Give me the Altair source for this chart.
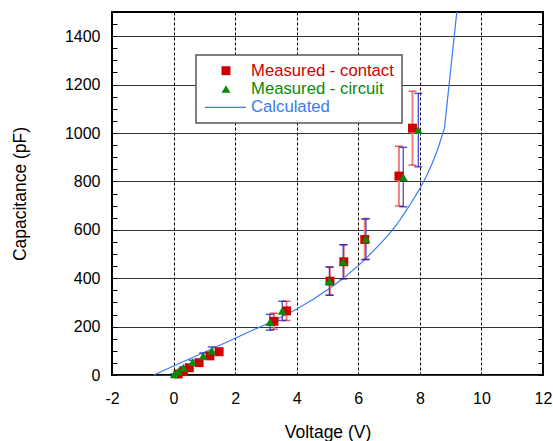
import altair as alt
import pandas as pd

FONT = "Liberation Sans"

# ---- data ----
contact_v = [0.15, 0.32, 0.51, 0.83, 1.18, 1.48, 3.26, 3.67, 5.08, 5.53, 6.21, 7.32, 7.76]
contact_c = [4, 14, 30, 51, 79, 96, 222, 265, 388, 468, 560, 822, 1020]
contact_lo = [3.4, 11.9, 25.5, 43.4, 67.2, 81.6, 188.7, 225.3, 329.8, 397.8, 476, 698.7, 867]
contact_hi = [4.6, 16.1, 34.5, 58.7, 90.9, 110.4, 255.3, 304.8, 446.2, 538.2, 644, 945.3, 1173]

circuit_v = [0.02, 0.15, 0.32, 0.62, 0.96, 1.24, 3.13, 3.53, 5.06, 5.51, 6.25, 7.46, 7.95]
circuit_c = [3, 14, 30, 53, 79, 101, 218, 265, 388, 468, 562, 818, 1012]
circuit_lo = [2.6, 11.9, 25.5, 45, 67.2, 85.9, 185.3, 225.3, 329.8, 397.8, 477.7, 695.3, 860.2]
circuit_hi = [3.5, 16.1, 34.5, 61, 90.9, 116.2, 250.7, 304.8, 446.2, 538.2, 646.3, 940.7, 1163.8]

calc_v = [-0.65, 0, 1, 2, 3, 3.5, 4, 4.5, 5, 5.5, 6, 6.25, 6.5, 6.75, 7, 7.25, 7.5, 7.75, 8, 8.2, 8.4, 8.6, 8.8, 9.25]
calc_c = [0, 37, 94, 152, 210, 240, 273, 310, 352, 398, 452, 482, 514, 547, 582, 622, 668, 718, 770, 818, 874, 940, 1020, 1560]

series_names = ["Measured - contact", "Measured - circuit", "Calculated"]
series_colors = ["#cc0000", "#0a8a0a", "#3a7af5"]

x_ticks = [-2, 0, 2, 4, 6, 8, 10, 12]
y_ticks = [0, 50, 100, 150, 200, 250, 300, 350, 400, 450, 500, 550, 600, 650, 700,
           750, 800, 850, 900, 950, 1000, 1050, 1100, 1150, 1200, 1250, 1300, 1350,
           1400, 1450, 1500]

contact = pd.DataFrame({"v": contact_v, "c": contact_c, "lo": contact_lo, "hi": contact_hi})
circuit = pd.DataFrame({"v": circuit_v, "c": circuit_c, "lo": circuit_lo, "hi": circuit_hi})
calc = pd.DataFrame({"v": calc_v, "c": calc_c})
leg = pd.DataFrame({"label": series_names, "row": [0, 1, 2]})

xscale = alt.Scale(domain=[-2, 12], nice=False, zero=False)
yscale = alt.Scale(domain=[0, 1500], nice=False, zero=False)

x_axis = alt.Axis(
    values=x_ticks, labelExpr="datum.value + ''", grid=True, gridDash=[3, 2], gridColor="black",
    gridWidth=1, ticks=False, domain=False, labelFlush=False, labelOverlap=False,
    labelFont=FONT, labelFontSize=16, labelColor="black", labelPadding=15,
    title="Voltage (V)", titleFont=FONT, titleFontSize=17.5, titleFontWeight="normal",
    titleColor="black", titlePadding=17,
)
x_enc = lambda f: alt.X(f, type="quantitative", scale=xscale, axis=x_axis)

y_left = alt.Axis(
    orient="left", values=y_ticks, format="d",
    labelExpr="datum.value % 200 === 0 ? datum.label : ''",
    offset=-5, tickSize=5, tickColor="black", tickWidth=1, domain=False,
    labelOverlap=False, labelFont=FONT, labelFontSize=16, labelColor="black",
    labelPadding=12, grid=True, gridColor="#333333", gridWidth=1,
    gridOpacity={"condition": {"test": "datum.value % 200 === 0", "value": 1}, "value": 0},
    title="Capacitance (pF)", titleFont=FONT, titleFontSize=17.5, titleFontWeight="normal",
    titleColor="black", titlePadding=35,
)
y_right = alt.Axis(
    orient="right", values=y_ticks, offset=-5, tickSize=5, tickColor="black",
    tickWidth=1, domain=False, labels=False, grid=False, title=None,
)

calc_line = alt.Chart(calc).mark_line(color="#3a7af5", strokeWidth=1.2, clip=True).encode(
    x=x_enc("v"), y=alt.Y("c:Q", scale=yscale, axis=y_left), order="v:Q"
)

def bars(df, body_color, cap_color, width):
    body = alt.Chart(df).mark_rule(color=body_color, strokeWidth=width).encode(
        x=x_enc("v"), y=alt.Y("lo:Q", scale=yscale, axis=None), y2="hi:Q"
    )
    cap_lo = alt.Chart(df).mark_tick(color=cap_color, orient="horizontal", size=8, thickness=1.5).encode(
        x=x_enc("v"), y=alt.Y("lo:Q", scale=yscale, axis=None)
    )
    cap_hi = alt.Chart(df).mark_tick(color=cap_color, orient="horizontal", size=8, thickness=1.5).encode(
        x=x_enc("v"), y=alt.Y("hi:Q", scale=yscale, axis=None)
    )
    return [body, cap_lo, cap_hi]

red_bars = bars(contact, "#f08080", "#e02020", 2)
blue_bars = bars(circuit, "#3a3ad0", "#1010c0", 1.2)

squares = alt.Chart(contact).mark_square(color="#cc0000", size=80, opacity=1).encode(
    x=x_enc("v"), y=alt.Y("c:Q", scale=yscale, axis=y_right)
)
triangles = alt.Chart(circuit).mark_point(shape="triangle-up", filled=True, color="#0a8a0a",
                                          size=80, opacity=1).encode(
    x=x_enc("v"), y=alt.Y("c:Q", scale=yscale, axis=None)
)

# ---- legend (manual, drawn in pixel space) ----
box = alt.Chart(pd.DataFrame({"a": [0]})).mark_rect(fill="white", stroke="#555555", strokeWidth=1.5).encode(
    x=alt.value(84), x2=alt.value(290), y=alt.value(43), y2=alt.value(111)
)
leg_base = alt.Chart(leg).transform_calculate(py="58.7 + datum.row * 18.3")
leg_text = leg_base.mark_text(align="left", baseline="middle", font=FONT, fontSize=16.7).encode(
    x=alt.value(139), y=alt.Y("py:Q", scale=None, axis=None), text="label:N",
    color=alt.Color("label:N", scale=alt.Scale(domain=series_names, range=series_colors), legend=None),
)
leg_sq = leg_base.transform_filter("datum.row == 0").mark_square(color="#cc0000", size=80, opacity=1).encode(
    x=alt.value(114), y=alt.Y("py:Q", scale=None, axis=None)
)
leg_tri = leg_base.transform_filter("datum.row == 1").mark_point(
    shape="triangle-up", filled=True, color="#0a8a0a", size=80, opacity=1).encode(
    x=alt.value(114), y=alt.Y("py:Q", scale=None, axis=None)
)
leg_line = leg_base.transform_filter("datum.row == 2").mark_rule(color="#3a7af5", strokeWidth=1.2).encode(
    x=alt.value(93), x2=alt.value(134), y=alt.Y("py:Q", scale=None, axis=None)
)

chart = alt.layer(
    calc_line, *red_bars, *blue_bars, squares, triangles,
    box, leg_text, leg_sq, leg_tri, leg_line,
).resolve_axis(y="independent").properties(
    width=431, height=363,
    autosize=alt.AutoSizeParams(type="none"),
    padding={"left": 112, "top": 12, "right": 10, "bottom": 66},
    background="white",
).configure_view(stroke="black", strokeWidth=2)

chart.save("out.html", embed_options={"renderer": "svg", "actions": False})
